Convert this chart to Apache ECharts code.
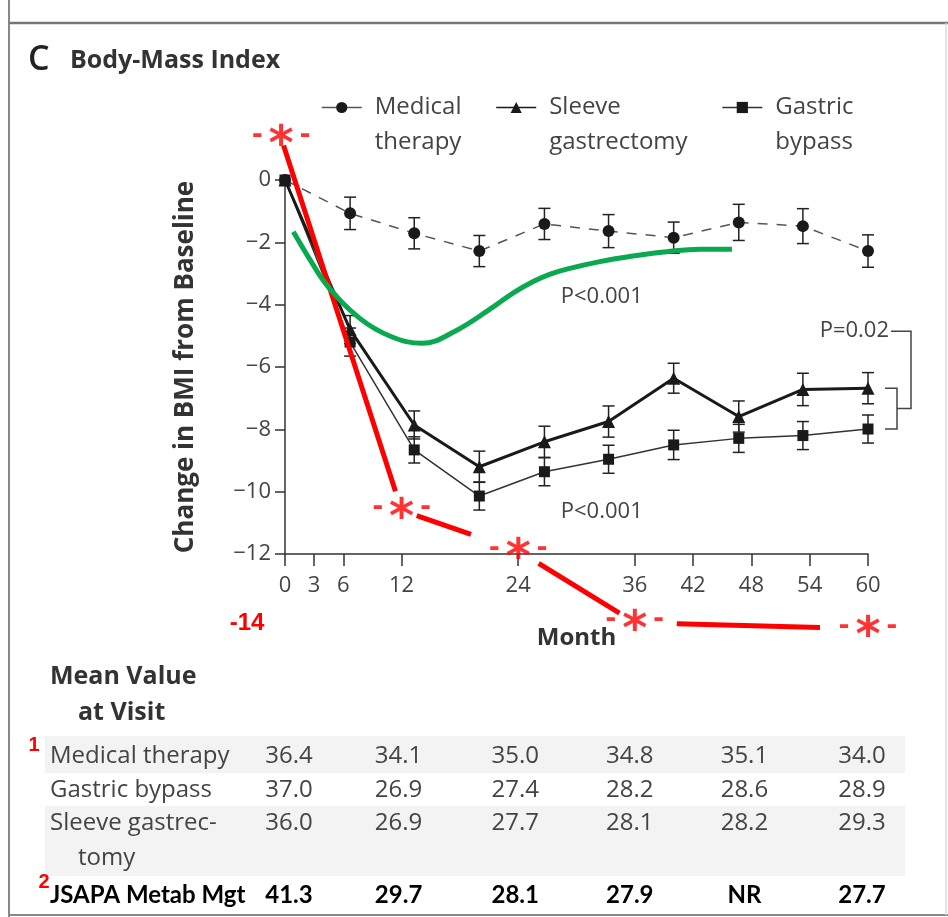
<!DOCTYPE html>
<html><head><meta charset="utf-8">
<script src="https://cdn.jsdelivr.net/npm/echarts@6/dist/echarts.min.js"></script>
<style>html,body{margin:0;padding:0;background:#fff}#c{width:948px;height:917px}</style>
</head><body><div id="c"></div>
<script>
// ---- data ----
const months = [0, 6.7, 13.3, 20, 26.7, 33.3, 40, 46.7, 53.3, 60];
const medical = [0, -1.07, -1.71, -2.28, -1.41, -1.64, -1.85, -1.36, -1.48, -2.28];
const medicalErr = [0, 0.52, 0.5, 0.5, 0.5, 0.53, 0.5, 0.58, 0.56, 0.52];
const sleeve = [0, -4.8, -7.86, -9.2, -8.4, -7.75, -6.36, -7.59, -6.72, -6.68];
const sleeveErr = [0, 0.45, 0.45, 0.5, 0.5, 0.5, 0.48, 0.5, 0.52, 0.5];
const bypass = [0, -5.2, -8.66, -10.14, -9.36, -8.96, -8.5, -8.29, -8.2, -7.99];
const bypassErr = [0, 0.45, 0.42, 0.45, 0.45, 0.45, 0.47, 0.45, 0.45, 0.45];
const xTicks = [0, 3, 6, 12, 24, 36, 42, 48, 54, 60];
// hand-drawn annotations
const greenX = [0.86, 2.6, 4.3, 7.7, 10.9, 14.1, 17.5, 21.4, 23.5, 25.6, 27.3, 29, 32.4, 35.8, 39.3, 42.7, 46];
const greenY = [-1.66, -2.57, -3.37, -4.44, -5.02, -5.24, -4.85, -4.08, -3.62, -3.25, -3.02, -2.86, -2.62, -2.44, -2.3, -2.22, -2.22];
const jsapaX = [-0.4, 12, 24, 36, 60];
const jsapaY = [1.35, -10.6, -11.9, -14.2, -14.4];
// table
const tableMonths = [0, 12, 24, 36, 48, 60];
const tblMedical = ['36.4', '34.1', '35.0', '34.8', '35.1', '34.0'];
const tblBypass = ['37.0', '26.9', '27.4', '28.2', '28.6', '28.9'];
const tblSleeve = ['36.0', '26.9', '27.7', '28.1', '28.2', '29.3'];
const tblJsapa = ['41.3', '29.7', '28.1', '27.9', 'NR', '27.7'];

const FF = '"Open Sans", "DejaVu Sans", sans-serif';
const TXT = '#444';

function errSeries(vals, errs) {
  return {
    type: 'custom', silent: true, z: 2, clip: false,
    data: months.map((m, i) => [m, vals[i] - errs[i], vals[i] + errs[i]]),
    renderItem: (params, api) => {
      if (api.value(1) === api.value(2)) return null;
      const lo = api.coord([api.value(0), api.value(1)]);
      const hi = api.coord([api.value(0), api.value(2)]);
      const w = 6, st = {stroke: '#222', lineWidth: 1.5};
      return {type: 'group', children: [
        {type: 'line', shape: {x1: lo[0], y1: lo[1], x2: hi[0], y2: hi[1]}, style: st},
        {type: 'line', shape: {x1: lo[0] - w, y1: lo[1], x2: lo[0] + w, y2: lo[1]}, style: st},
        {type: 'line', shape: {x1: hi[0] - w, y1: hi[1], x2: hi[0] + w, y2: hi[1]}, style: st}
      ]};
    }
  };
}
const redGaps = [[8, 20], [16, 50], [24, 18], [42, 48]];

const option = {
  animation: false,
  backgroundColor: '#fff',
  grid: {left: 285, right: 80, top: 180, bottom: 363},
  legend: {
    left: 316, top: 50, itemWidth: 40, itemHeight: 14, itemGap: 34,
    data: ['Medical therapy', 'Sleeve gastrectomy', 'Gastric bypass'],
    formatter: n => '\n' + n.replace(' ', '\n'),
    lineStyle: {type: 'solid', width: 1.5},
    textStyle: {fontFamily: FF, fontSize: 24, color: TXT, lineHeight: 35, padding: [0, 0, 0, 8]}
  },
  xAxis: {
    type: 'value', min: 0, max: 60, interval: 3,
    axisLine: {onZero: false, lineStyle: {color: '#333', width: 1.5}},
    axisTick: {customValues: xTicks, length: 12, lineStyle: {color: '#333', width: 1.5}},
    axisLabel: {customValues: xTicks, fontFamily: FF, fontSize: 22, color: TXT, margin: 21},
    splitLine: {show: false},
    name: 'Month', nameLocation: 'middle', nameGap: 72,
    nameTextStyle: {fontFamily: FF, fontWeight: 'bold', fontSize: 24, color: '#333'}
  },
  yAxis: {
    type: 'value', min: -12, max: 0, interval: 2,
    axisLine: {show: true, onZero: false, lineStyle: {color: '#333', width: 1.5}},
    axisTick: {show: true, length: 10, lineStyle: {color: '#333', width: 1.5}},
    axisLabel: {formatter: v => v < 0 ? '\u2212' + (-v) : String(v), fontFamily: FF, fontSize: 22, color: TXT, margin: 14},
    splitLine: {show: false},
    name: 'Change in BMI from Baseline', nameLocation: 'middle', nameGap: 86,
    nameTextStyle: {fontFamily: FF, fontWeight: 'bold', fontSize: 26, color: '#333'}
  },
  series: [
    errSeries(medical, medicalErr),
    errSeries(sleeve, sleeveErr),
    errSeries(bypass, bypassErr),
    {type: 'line', name: 'Medical therapy', z: 3, data: months.map((m, i) => [m, medical[i]]),
      symbol: 'circle', symbolSize: 12, itemStyle: {color: '#1a1a1a'},
      lineStyle: {type: [10, 9], width: 1.5, color: '#555'}},
    {type: 'line', name: 'Sleeve gastrectomy', z: 4, data: months.map((m, i) => [m, sleeve[i]]),
      symbol: 'triangle', symbolSize: 13, itemStyle: {color: '#1a1a1a'},
      lineStyle: {width: 3, color: '#1a1a1a'}},
    {type: 'line', name: 'Gastric bypass', z: 3, data: months.map((m, i) => [m, bypass[i]]),
      symbol: 'rect', symbolSize: 11, itemStyle: {color: '#1a1a1a'},
      lineStyle: {width: 1.5, color: '#333'}},
    {type: 'line', name: 'green', z: 6, data: greenX.map((m, i) => [m, greenY[i]]), smooth: 0.4,
      symbol: 'none', clip: false, lineStyle: {width: 5, color: '#0aa84f'}, silent: true},
    {type: 'custom', z: 6, clip: false, silent: true,
      data: jsapaX.slice(0, -1).map((m, i) => [m, jsapaY[i], jsapaX[i + 1], jsapaY[i + 1], i]),
      renderItem: (params, api) => {
        const a = api.coord([api.value(0), api.value(1)]);
        const b = api.coord([api.value(2), api.value(3)]);
        const g = redGaps[api.value(4)];
        const dx = b[0] - a[0], dy = b[1] - a[1], L = Math.hypot(dx, dy);
        const ux = dx / L, uy = dy / L;
        return {type: 'line', shape: {x1: a[0] + ux * g[0], y1: a[1] + uy * g[0], x2: b[0] - ux * g[1], y2: b[1] - uy * g[1]},
          style: {stroke: '#ff0000', lineWidth: 5}};
      }},
    {type: 'scatter', z: 7, clip: false, silent: true, symbolSize: 1, itemStyle: {color: 'rgba(0,0,0,0)'},
      data: jsapaX.map((m, i) => [m, jsapaY[i]]),
      label: {show: true, position: 'inside', formatter: '{d|-}{s|*}{d|-}',
        rich: {
          d: {fontFamily: 'Liberation Sans', fontWeight: 'bold', fontSize: 32, color: '#ff0000', padding: [0, 6, 8, 6]},
          s: {fontFamily: 'DejaVu Sans', fontWeight: 'bold', fontSize: 48, color: '#ff0000', padding: [18, 0, 0, 0]}
        }}}
  ]
};

const chart = echarts.init(document.getElementById('c'));
chart.setOption(option);
const P = (m, v) => chart.convertToPixel({gridIndex: 0}, [m, v]);

const G = [];
function txt(text, x, y, font, fill, align) {
  G.push({type: 'text', z: 10, silent: true, style: {text, x, y, font, fill, align: align || 'left', textAlign: align || 'left', verticalAlign: 'middle', textVerticalAlign: 'middle'}});
}
function line(pts, stroke, w) {
  G.push({type: 'polyline', z: 10, silent: true, shape: {points: pts}, style: {stroke, lineWidth: w, fill: null}});
}
// frame
line([[9, 0], [9, 917]], '#888', 2);
line([[9, 23], [948, 23]], '#777', 2.5);
line([[9, 915], [948, 915]], '#888', 2);
line([[946, 23], [946, 915]], '#ddd', 1.5);
// title
txt('C', 28, 60, '600 34px ' + FF, '#222');
txt('Body-Mass Index', 70, 61, 'bold 25px ' + FF, '#333');
// p-values
let p = P(32.6, -3.75); txt('P<0.001', p[0], p[1], '22px ' + FF, TXT, 'center');
p = P(32.6, -10.65); txt('P<0.001', p[0], p[1], '22px ' + FF, TXT, 'center');
const s60 = P(60, sleeve[sleeve.length - 1]), b60 = P(60, bypass[bypass.length - 1]);
const midY = (s60[1] + b60[1]) / 2;
const pTop = s60[1] - 57;
txt('P=0.02', s60[0] + 21, pTop, '22px ' + FF, TXT, 'right');
line([[s60[0] + 23, pTop], [s60[0] + 43, pTop], [s60[0] + 43, midY], [s60[0] + 29, midY]], '#444', 1.5);
line([[s60[0] + 17, s60[1]], [s60[0] + 29, s60[1]], [s60[0] + 29, b60[1]], [s60[0] + 17, b60[1]]], '#444', 1.5);
// red -14
p = P(0, -14); txt('-14', p[0] - 38, p[1] + 7, 'bold 24px "Liberation Sans", sans-serif', '#ff0000', 'center');
// table
G.push({type: 'rect', z: 0, silent: true, shape: {x: 45, y: 736, width: 860, height: 37}, style: {fill: '#f3f3f3'}});
G.push({type: 'rect', z: 0, silent: true, shape: {x: 45, y: 806, width: 860, height: 70}, style: {fill: '#f3f3f3'}});
txt('Mean Value', 50, 677, 'bold 25px ' + FF, '#333');
txt('at Visit', 78, 713, 'bold 25px ' + FF, '#333');
txt('1', 34, 745, 'bold 20px "Liberation Sans", sans-serif', '#ff0000', 'center');
txt('Medical therapy', 50, 756, '24px ' + FF, TXT);
txt('Gastric bypass', 50, 790, '24px ' + FF, TXT);
txt('Sleeve gastrec-', 50, 823, '24px ' + FF, TXT);
txt('tomy', 78, 858, '24px ' + FF, TXT);
txt('2', 44, 882, 'bold 20px "Liberation Sans", sans-serif', '#ff0000', 'center');
txt('JSAPA Metab Mgt', 50, 895, 'bold 24px Lato, sans-serif', '#000');
const colNudge = [4, -3, -3, -5, -7, -6];
tableMonths.forEach((m, i) => {
  const x = P(m, 0)[0] + colNudge[i];
  txt(tblMedical[i], x, 756, '24px ' + FF, TXT, 'center');
  txt(tblBypass[i], x, 790, '24px ' + FF, TXT, 'center');
  txt(tblSleeve[i], x, 823, '24px ' + FF, TXT, 'center');
  txt(tblJsapa[i], x, 895, 'bold 24px Lato, sans-serif', '#000', 'center');
});
chart.setOption({graphic: G});
</script></body></html>
